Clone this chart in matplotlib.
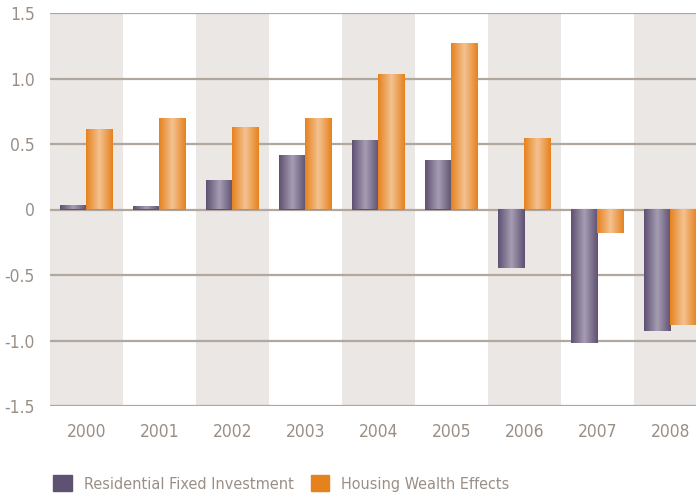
import matplotlib
matplotlib.use("Agg")
import matplotlib.pyplot as plt
import numpy as np
from matplotlib.colors import LinearSegmentedColormap
from matplotlib.patches import Patch

plt.rcParams['font.family'] = ['DejaVu Sans']
plt.rcParams['font.stretch'] = 'condensed'

years = ['2000', '2001', '2002', '2003', '2004', '2005', '2006', '2007', '2008']
residential = [0.03, 0.02, 0.22, 0.41, 0.52, 0.37, -0.45, -1.02, -0.93]
housing_wealth = [0.61, 0.69, 0.62, 0.69, 1.03, 1.26, 0.54, -0.18, -0.88]
y_ticks = [-1.5, -1.0, -0.5, 0, 0.5, 1.0, 1.5]
y_labels = ['-1.5', '-1.0', '-0.5', '0', '0.5', '1.0', '1.5']

text_col = '#9a8f86'
grid_col = '#b0a79e'
band_col = '#ebe7e4'
purple = ('#5f5172', '#a69db3')
orange = ('#e6821e', '#f3c291')

fig = plt.figure(figsize=(6.96, 4.95), dpi=100)
ax = fig.add_axes([50 / 696, 89 / 495, 646 / 696, 393 / 495])

x = np.arange(len(years))
w = 0.365

# alternating shaded columns
for i in x:
    if i % 2 == 0:
        ax.axvspan(i - 0.5, i + 0.5, color=band_col, lw=0, zorder=0)

for v in y_ticks:
    ax.axhline(v, color=grid_col, lw=1.6, zorder=1)


def shaded_bars(xs, vals, cols):
    bars = ax.bar(xs, vals, w, color=cols[0], zorder=2)
    cmap = LinearSegmentedColormap.from_list('g', [cols[0], cols[1], cols[0]])
    grad = np.linspace(0, 1, 64).reshape(1, -1)
    for b in bars:
        x0, y0 = b.get_x(), b.get_y()
        bw, bh = b.get_width(), b.get_height()
        ax.imshow(grad, cmap=cmap, aspect='auto', zorder=3,
                  extent=(x0, x0 + bw, min(y0, y0 + bh), max(y0, y0 + bh)))
    return bars


shaded_bars(x - w / 2, residential, purple)
shaded_bars(x + w / 2, housing_wealth, orange)

ax.set_xlim(-0.5, 8.35)
ax.set_ylim(-1.5, 1.5)
ax.set_yticks(y_ticks)
ax.set_yticklabels(y_labels)
ax.set_xticks(x)
ax.set_xticklabels(years)
ax.tick_params(axis='both', length=0, labelsize=12.5, colors=text_col)
ax.tick_params(axis='y', pad=11)
ax.tick_params(axis='x', pad=12)
for s in ax.spines.values():
    s.set_visible(False)

handles = [Patch(color=purple[0], label='Residential Fixed Investment'),
           Patch(color=orange[0], label='Housing Wealth Effects')]
leg = fig.legend(handles=handles, loc='lower left', bbox_to_anchor=(0.072, 0.0),
                 ncol=2, frameon=False, fontsize=11.6, handlelength=1.15,
                 handleheight=1.15, handletextpad=0.75, columnspacing=1.05,
                 borderaxespad=0.1, borderpad=0.1)
for t in leg.get_texts():
    t.set_color(text_col)

fig.savefig('out.png', dpi=100)
